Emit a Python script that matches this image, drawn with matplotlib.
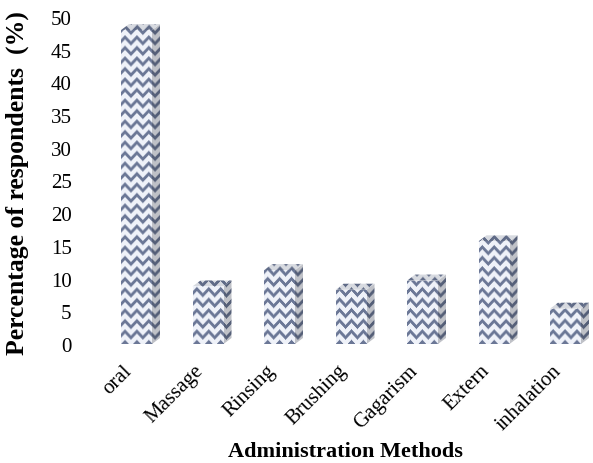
import numpy as np
import matplotlib
matplotlib.use("Agg")
import matplotlib.pyplot as plt
from matplotlib.patches import Polygon
from matplotlib.transforms import ScaledTranslation

categories = ["oral", "Massage", "Rinsing", "Brushing", "Gagarism", "Extern", "inhalation"]
values = [48.0, 8.8, 11.3, 8.3, 9.7, 15.7, 5.4]
yticks = [0, 5, 10, 15, 20, 25, 30, 35, 40, 45, 50]

plt.rcParams['font.family'] = ['Liberation Serif', 'DejaVu Serif']

W_PX, H_PX = 593, 464
fig = plt.figure(figsize=(W_PX / 100, H_PX / 100), dpi=100)
ax_left, ax_bottom = 100.75 / W_PX, (H_PX - 345) / H_PX
ax_w, ax_h = 500.5 / W_PX, (345 - 18) / H_PX
ax = fig.add_axes([ax_left, ax_bottom, ax_w, ax_h])

xlim = (-0.5, len(categories) - 0.5)
ylim = (0, 50)

# herringbone-like texture (pixel grid of the axes)
th, tw = 330, 505
yy, xx = np.mgrid[0:th, 0:tw]
P, Q = 6, 10
blk = (xx // P) % 2
s = np.where(blk == 0, yy + (xx % P), yy - (xx % P) + P)
stripe = ((s % Q) < 3.5).astype(float)
dark = np.array([0.42, 0.47, 0.59])
light = np.array([0.94, 0.95, 0.98])

def make_tex(shade):
    img = light[None, None, :] * (1 - stripe[..., None]) + dark[None, None, :] * stripe[..., None]
    return np.clip(img * shade, 0, 1)

tex_front = make_tex(1.0)
tex_side = make_tex(0.80)
tex_top = make_tex(0.90)

x = np.arange(len(categories))
w = 31 / 71.5
dx = 8 / 71.5
dy = 6 / (327 / 50)

bars = ax.bar(x, values, width=w, color='none', edgecolor='none', zorder=2)
extent = (xlim[0], xlim[1], ylim[0], ylim[1] + 3)
for xi, h, patch in zip(x, values, bars.patches):
    side = Polygon([(xi + w / 2, 0), (xi + w / 2 + dx, dy), (xi + w / 2 + dx, h + dy), (xi + w / 2, h)],
                   closed=True, facecolor='none', edgecolor='none')
    top = Polygon([(xi - w / 2, h), (xi + w / 2, h), (xi + w / 2 + dx, h + dy), (xi - w / 2 + dx, h + dy)],
                  closed=True, facecolor='none', edgecolor='none')
    ax.add_patch(side)
    ax.add_patch(top)
    for tex, clip in ((tex_side, side), (tex_top, top), (tex_front, patch)):
        im = ax.imshow(tex, extent=extent, origin='lower', aspect='auto',
                       interpolation='bilinear', zorder=2)
        im.set_clip_path(clip)

ax.set_xlim(*xlim)
ax.set_ylim(*ylim)
ax.set_yticks(yticks)
ax.set_yticklabels([str(t) for t in yticks], fontsize=15)
ax.set_xticks(x)
ax.set_xticklabels(categories, rotation=45, ha='right', rotation_mode='anchor', fontsize=15)
ax.tick_params(axis='both', length=0)
ax.tick_params(axis='y', pad=21)
ax.tick_params(axis='x', pad=12)
shift = ScaledTranslation(-10 / 72, 0, fig.dpi_scale_trans)
for lbl in ax.get_xticklabels():
    lbl.set_transform(lbl.get_transform() + shift)
for sp in ax.spines.values():
    sp.set_visible(False)

fig.text(17 / W_PX, 1 - 183 / H_PX, "Percentage of respondents  (%)", rotation=90,
         ha='center', va='center', fontsize=18.5, fontweight='bold')
fig.text(345 / W_PX, 1 - 452 / H_PX, "Administration Methods",
         ha='center', va='center', fontsize=16, fontweight='bold')

fig.savefig("out.png", dpi=100)
